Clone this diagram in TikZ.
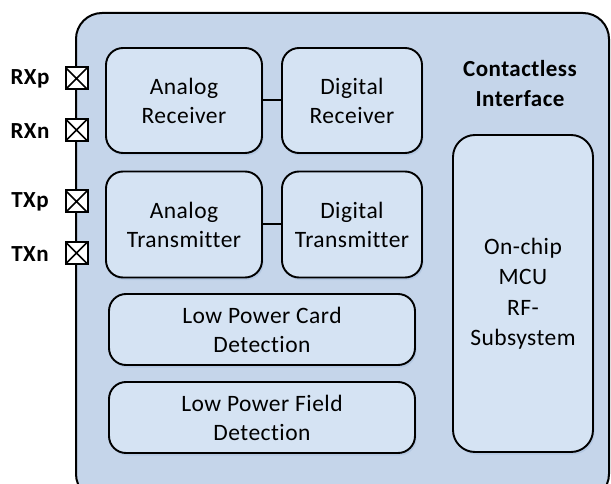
\documentclass[tikz,border=0pt]{standalone}
\usepackage{fontspec}
\setmainfont{Carlito}[Ligatures=NoCommon,LetterSpace=2]
\usetikzlibrary{shadows}
\definecolor{outerfill}{RGB}{197,213,234}
\definecolor{innerfill}{RGB}{213,227,243}
\definecolor{shadowc}{RGB}{170,192,222}
\begin{document}
\begin{tikzpicture}[x=1pt,y=-1pt,
  blockbox/.style={draw=black,line width=1.9pt,fill=innerfill,rounded corners=17pt,
    align=center,inner sep=0pt,font=\fontsize{23.5}{29}\selectfont,
    drop shadow={shadow xshift=1.5pt,shadow yshift=-2.5pt,fill=shadowc,opacity=0.6}},
  pinbox/.style={draw=black,line width=2pt,fill=white,minimum size=22pt,inner sep=0pt,
    path picture={\draw[line width=1.7pt] (path picture bounding box.north west) -- (path picture bounding box.south east)
      (path picture bounding box.north east) -- (path picture bounding box.south west);}},
  pinlabel/.style={font=\fontsize{23}{28}\selectfont\bfseries,anchor=center,inner sep=0pt},
  link/.style={draw=black,line width=2pt}]
\useasboundingbox (0,0) rectangle (611,484);
\begin{scope}
\clip (0,0) rectangle (611,484);
\draw[line width=2pt,fill=outerfill,rounded corners=26pt] (76,13) rectangle (609,500);
\end{scope}
% blocks
\node[blockbox,minimum width=156pt,minimum height=105pt] (ar) at (184,100.5) {Analog\\Receiver};
\node[blockbox,minimum width=140pt,minimum height=105pt] (dr) at (352,100.5) {Digital\\Receiver};
\node[blockbox,minimum width=156pt,minimum height=106pt] (at) at (184,224.5) {Analog\\Transmitter};
\node[blockbox,minimum width=140pt,minimum height=106pt] (dt) at (352,224.5) {Digital\\Transmitter};
\node[blockbox,minimum width=306pt,minimum height=71pt] (lpc) at (262,329.5) {Low Power Card\\Detection};
\node[blockbox,minimum width=306pt,minimum height=71pt] (lpf) at (262,417.5) {Low Power Field\\Detection};
\node[blockbox,minimum width=140pt,minimum height=317pt,rounded corners=22pt,font=\fontsize{23.5}{30.5}\selectfont] (mcu) at (523,293.5) {On-chip\\MCU\\RF-\\Subsystem};
\node[font=\fontsize{23}{30}\selectfont\bfseries,align=center,inner sep=0pt] (title) at (520,84) {Contactless\\Interface};
% links
\draw[link] (ar.east) -- (dr.west);
\draw[link] (at.east) -- (dt.west);
% pins
\node[pinbox] (p1) at (76.5,78.5) {};
\node[pinbox] (p2) at (76.5,130) {};
\node[pinbox] (p3) at (76.5,201.5) {};
\node[pinbox] (p4) at (76.5,253) {};
\node[pinlabel] (l1) at (30,79) {RXp};
\node[pinlabel] (l2) at (30,131) {RXn};
\node[pinlabel] (l3) at (30,202) {TXp};
\node[pinlabel] (l4) at (30,254) {TXn};
\end{tikzpicture}
\end{document}
